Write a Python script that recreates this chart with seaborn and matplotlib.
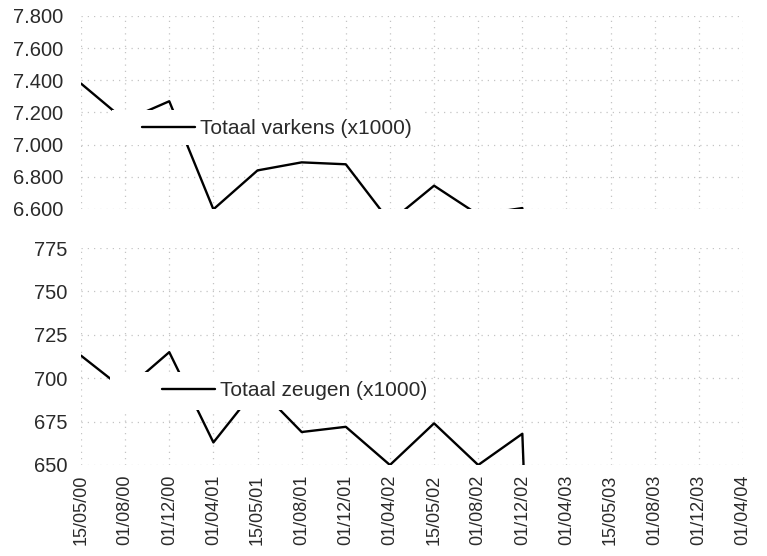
import numpy as np
import pandas as pd
import seaborn as sns
import matplotlib
matplotlib.use("Agg")
import matplotlib.pyplot as plt
from matplotlib.patches import Rectangle
from matplotlib.ticker import FuncFormatter, FixedLocator

dates = ["15/05/00", "01/08/00", "01/12/00", "01/04/01", "15/05/01", "01/08/01",
         "01/12/01", "01/04/02", "15/05/02", "01/08/02", "01/12/02", "01/04/03",
         "15/05/03", "01/08/03", "01/12/03", "01/04/04"]
varkens = [7380, 7150, 7270, 6598, 6840, 6890, 6878, 6520, 6745, 6565, 6606,
           0, 0, 0, 0, 0]
zeugen = [713, 693, 715, 663, 695, 669, 672, 650, 674, 650, 668,
          0, 0, 0, 0, 0]
label_top = "Totaal varkens (x1000)"
label_bot = "Totaal zeugen (x1000)"
yticks_top = [6600, 6800, 7000, 7200, 7400, 7600, 7800]
yticks_bot = [650, 675, 700, 725, 750, 775]

sns.set_theme(style="white")
plt.rcParams["font.family"] = ["Liberation Sans", "DejaVu Sans"]

df = pd.DataFrame({"pos": np.arange(len(dates)), "date": dates,
                   "varkens": varkens, "zeugen": zeugen})

W, H = 767, 556
fig = plt.figure(figsize=(W / 100, H / 100), dpi=100)

def frac_x(px):
    return px / W

def frac_y(py):
    return 1 - py / H

left, right = 81, 743
ax1 = fig.add_axes([frac_x(left), frac_y(209), (right - left) / W, (209 - 16) / H])
ax2 = fig.add_axes([frac_x(left), frac_y(465), (right - left) / W, (465 - 248) / H])

textc = "#2a2a2a"
gridc = "#c4c4c4"

def style(ax, yticks, ypad, fmt, legend_label, box, leg_anchor):
    ax.set_xlim(0, len(dates) - 1)
    ax.set_ylim(yticks[0], yticks[-1])
    ax.yaxis.set_major_locator(FixedLocator(yticks))
    ax.yaxis.set_major_formatter(FuncFormatter(fmt))
    ax.xaxis.set_major_locator(FixedLocator(list(range(len(dates)))))
    ax.grid(True, color=gridc, linestyle=(0, (1, 4)), linewidth=0.9)
    for s in ax.spines.values():
        s.set_visible(False)
    ax.tick_params(axis="y", length=0, pad=ypad, labelsize=14.5, colors=textc)
    ax.tick_params(axis="x", length=0, pad=7, labelsize=13, colors=textc)
    ax.set_xlabel("")
    ax.set_ylabel("")
    # white legend background box
    ax.add_patch(Rectangle((box[0], box[1]), box[2] - box[0], box[3] - box[1],
                           transform=ax.transAxes, facecolor="white",
                           edgecolor="none", zorder=4, clip_on=False))
    leg = ax.legend([ax.lines[0]], [legend_label], loc="center left",
                    bbox_to_anchor=leg_anchor, frameon=False, borderpad=0,
                    borderaxespad=0, handlelength=2.55, handletextpad=0.25,
                    fontsize=15, labelcolor=textc)
    leg.set_zorder(5)

sns.lineplot(data=df, x="pos", y="varkens", ax=ax1, color="black",
             linewidth=1.7, legend=False, zorder=3)
sns.lineplot(data=df, x="pos", y="zeugen", ax=ax2, color="black",
             linewidth=1.7, legend=False, zorder=3)

fmt_top = lambda v, p: f"{int(v):,}".replace(",", ".")
fmt_bot = lambda v, p: f"{int(v)}"

style(ax1, yticks_top, 13, fmt_top, label_top,
      ((112 - 81) / 662, (209 - 145) / 193, (425 - 81) / 662, (209 - 110) / 193),
      ((142 - 81) / 662, (209 - 129) / 193))
style(ax2, yticks_bot, 10, fmt_bot, label_bot,
      ((110 - 81) / 662, (465 - 410) / 217, (425 - 81) / 662, (465 - 372) / 217),
      ((162 - 81) / 662, (465 - 391) / 217))

ax1.set_xticklabels([])
ax2.set_xticks(list(range(len(dates))))
ax2.set_xticklabels(dates, rotation=90)

fig.savefig("out.png", dpi=100)
